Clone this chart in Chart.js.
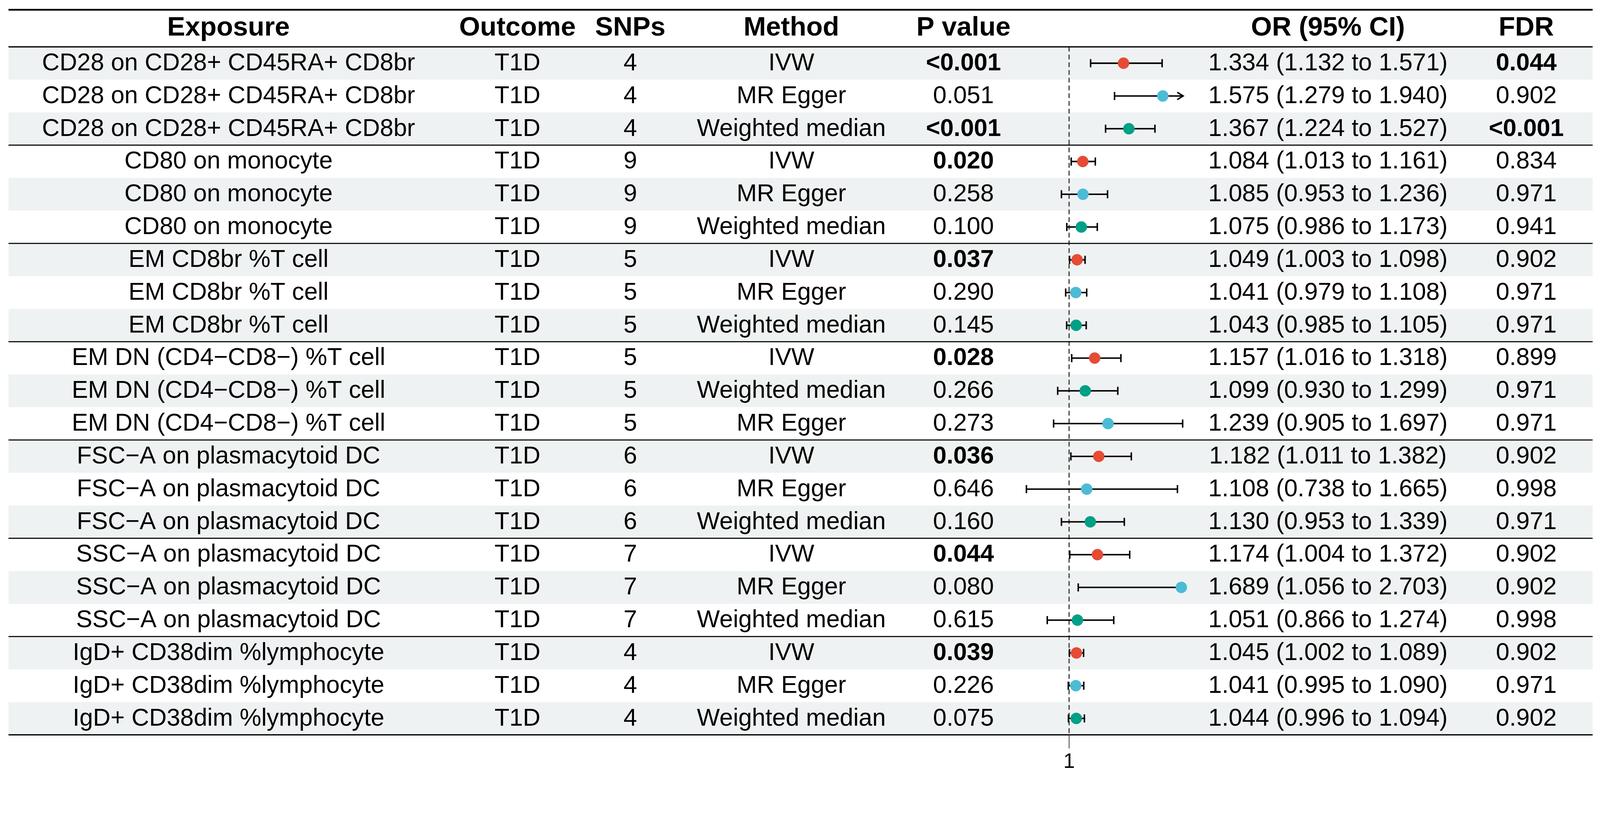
<!DOCTYPE html>
<html>
<head>
<meta charset="utf-8">
<script src="https://cdn.jsdelivr.net/npm/chart.js@4/dist/chart.umd.min.js"></script>
<style>
  html, body { margin: 0; padding: 0; background: #ffffff; overflow: hidden; }
  #wrap { position: relative; }
</style>
</head>
<body>
<div id="wrap"><canvas id="forest"></canvas></div>
<script>
// MR results for T1D, one entry per row (top to bottom)
const exposures = [
  "CD28 on CD28+ CD45RA+ CD8br", "CD28 on CD28+ CD45RA+ CD8br", "CD28 on CD28+ CD45RA+ CD8br",
  "CD80 on monocyte", "CD80 on monocyte", "CD80 on monocyte",
  "EM CD8br %T cell", "EM CD8br %T cell", "EM CD8br %T cell",
  "EM DN (CD4\u2212CD8\u2212) %T cell", "EM DN (CD4\u2212CD8\u2212) %T cell", "EM DN (CD4\u2212CD8\u2212) %T cell",
  "FSC\u2212A on plasmacytoid DC", "FSC\u2212A on plasmacytoid DC", "FSC\u2212A on plasmacytoid DC",
  "SSC\u2212A on plasmacytoid DC", "SSC\u2212A on plasmacytoid DC", "SSC\u2212A on plasmacytoid DC",
  "IgD+ CD38dim %lymphocyte", "IgD+ CD38dim %lymphocyte", "IgD+ CD38dim %lymphocyte"
];
const outcomes = Array(21).fill("T1D");
const snps = [4, 4, 4, 9, 9, 9, 5, 5, 5, 5, 5, 5, 6, 6, 6, 7, 7, 7, 4, 4, 4];
const methods = [
  "IVW", "MR Egger", "Weighted median",
  "IVW", "MR Egger", "Weighted median",
  "IVW", "MR Egger", "Weighted median",
  "IVW", "Weighted median", "MR Egger",
  "IVW", "MR Egger", "Weighted median",
  "IVW", "MR Egger", "Weighted median",
  "IVW", "MR Egger", "Weighted median"
];
const pValues = ["<0.001", "0.051", "<0.001", "0.020", "0.258", "0.100", "0.037", "0.290", "0.145",
  "0.028", "0.266", "0.273", "0.036", "0.646", "0.160", "0.044", "0.080", "0.615", "0.039", "0.226", "0.075"];
const orValues = [1.334, 1.575, 1.367, 1.084, 1.085, 1.075, 1.049, 1.041, 1.043, 1.157, 1.099, 1.239,
  1.182, 1.108, 1.130, 1.174, 1.689, 1.051, 1.045, 1.041, 1.044];
const ciLower = [1.132, 1.279, 1.224, 1.013, 0.953, 0.986, 1.003, 0.979, 0.985, 1.016, 0.930, 0.905,
  1.011, 0.738, 0.953, 1.004, 1.056, 0.866, 1.002, 0.995, 0.996];
const ciUpper = [1.571, 1.940, 1.527, 1.161, 1.236, 1.173, 1.098, 1.108, 1.105, 1.318, 1.299, 1.697,
  1.382, 1.665, 1.339, 1.372, 2.703, 1.274, 1.089, 1.090, 1.094];
const fdrValues = ["0.044", "0.902", "<0.001", "0.834", "0.971", "0.941", "0.902", "0.971", "0.971",
  "0.899", "0.971", "0.971", "0.902", "0.998", "0.971", "0.902", "0.902", "0.998", "0.902", "0.971", "0.902"];
const xTicks = [1];
const headers = ["Exposure", "Outcome", "SNPs", "Method", "P value", "", "OR (95% CI)", "FDR"];

const methodColors = { "IVW": "#E64B35", "MR Egger": "#4DBBD5", "Weighted median": "#00A087" };
const FONT = "'Liberation Sans', Arial, Helvetica, sans-serif";

// everything below is laid out for a 4341 wide page, then scaled to the real viewport
const k = window.innerWidth / 4341;
const S = v => v * k;
const wrap = document.getElementById("wrap");
wrap.style.width = window.innerWidth + "px";
wrap.style.height = Math.round(2106 * k) + "px";

const colX = [620, 1404, 1710, 2147, 2614, null, 3603, 4141];
const tableLeft = 23, tableRight = 4321;

const fmt = v => v.toFixed(3);
const orText = orValues.map((v, i) => `${fmt(v)} (${fmt(ciLower[i])} to ${fmt(ciUpper[i])})`);
const isSig = s => s.startsWith("<") || parseFloat(s) < 0.05;

function drawText(ctx, txt, x, y, bold, size) {
  ctx.font = `${bold ? "bold " : ""}${S(size)}px ${FONT}`;
  ctx.fillStyle = "#000";
  ctx.textAlign = "center";
  ctx.textBaseline = "middle";
  ctx.fillText(txt, x, y);
}

function hline(ctx, y, w) {
  ctx.beginPath();
  ctx.lineWidth = S(w);
  ctx.strokeStyle = "#000";
  ctx.moveTo(S(tableLeft), y);
  ctx.lineTo(S(tableRight), y);
  ctx.stroke();
}

const tablePlugin = {
  id: "forestTable",
  beforeDraw(chart) {
    const ctx = chart.ctx;
    const ys = chart.scales.y;
    ctx.save();
    ctx.fillStyle = "#ffffff";
    ctx.fillRect(0, 0, chart.width, chart.height);
    // zebra rows
    ctx.fillStyle = "#EFF2F2";
    for (let i = 0; i < exposures.length; i += 2) {
      const top = ys.getPixelForValue(i + 0.5);
      const bot = ys.getPixelForValue(i + 1.5);
      ctx.fillRect(S(tableLeft), top, S(tableRight - tableLeft), bot - top);
    }
    ctx.restore();
  },
  beforeDatasetsDraw(chart) {
    const ctx = chart.ctx;
    const xs = chart.scales.x, ys = chart.scales.y;
    const area = chart.chartArea;
    ctx.save();
    // reference line at OR = 1
    const x1 = xs.getPixelForValue(1);
    ctx.beginPath();
    ctx.setLineDash([S(13), S(8)]);
    ctx.lineWidth = S(3);
    ctx.strokeStyle = "#333";
    ctx.moveTo(x1, area.top);
    ctx.lineTo(x1, area.bottom);
    ctx.stroke();
    ctx.setLineDash([]);

    // confidence intervals
    ctx.strokeStyle = "#000";
    ctx.lineWidth = S(4);
    ctx.lineCap = "butt";
    orValues.forEach((v, i) => {
      const y = ys.getPixelForValue(i + 1);
      const lo = Math.max(ciLower[i], xs.min);
      const hi = Math.min(ciUpper[i], xs.max);
      const xl = xs.getPixelForValue(lo);
      const xh = xs.getPixelForValue(hi);
      ctx.beginPath();
      ctx.moveTo(xl, y);
      ctx.lineTo(xh, y);
      if (ciLower[i] >= xs.min) {
        ctx.moveTo(xl, y - S(11));
        ctx.lineTo(xl, y + S(11));
      }
      if (ciUpper[i] <= xs.max) {
        ctx.moveTo(xh, y - S(11));
        ctx.lineTo(xh, y + S(11));
      }
      ctx.stroke();
      if (ciUpper[i] > xs.max) {
        ctx.beginPath();
        ctx.moveTo(xh - S(16), y - S(10));
        ctx.lineTo(xh, y);
        ctx.lineTo(xh - S(16), y + S(10));
        ctx.stroke();
      }
    });
    ctx.restore();
  },
  afterDraw(chart) {
    const ctx = chart.ctx;
    const xs = chart.scales.x, ys = chart.scales.y;
    const area = chart.chartArea;
    ctx.save();
    const topLine = S(26.5);
    hline(ctx, topLine, 5);
    hline(ctx, area.top, 3.5);
    for (let g = 3; g < exposures.length; g += 3) {
      hline(ctx, ys.getPixelForValue(g + 0.5), 3);
    }
    hline(ctx, area.bottom, 3.5);

    // header
    const hy = (topLine + area.top) / 2;
    headers.forEach((h, c) => {
      if (h) drawText(ctx, h, S(colX[c]), hy, true, 73);
    });

    // body
    exposures.forEach((e, i) => {
      const y = ys.getPixelForValue(i + 1) + S(1);
      drawText(ctx, e, S(colX[0]), y, false, 66);
      drawText(ctx, outcomes[i], S(colX[1]), y, false, 66);
      drawText(ctx, String(snps[i]), S(colX[2]), y, false, 66);
      drawText(ctx, methods[i], S(colX[3]), y, false, 66);
      drawText(ctx, pValues[i], S(colX[4]), y, isSig(pValues[i]), 66);
      drawText(ctx, orText[i], S(colX[6]), y, false, 66);
      drawText(ctx, fdrValues[i], S(colX[7]), y, isSig(fdrValues[i]), 66);
    });

    // x axis tick
    xTicks.forEach(t => {
      const xp = xs.getPixelForValue(t);
      ctx.beginPath();
      ctx.lineWidth = S(2);
      ctx.strokeStyle = "#333";
      ctx.moveTo(xp, area.bottom);
      ctx.lineTo(xp, area.bottom + S(37));
      ctx.stroke();
      drawText(ctx, String(t), xp, area.bottom + S(74), false, 56);
    });
    ctx.restore();
  }
};

new Chart(document.getElementById("forest"), {
  type: "scatter",
  data: {
    datasets: [
      {
        data: orValues.map((v, i) => ({ x: v, y: i + 1 })),
        pointRadius: S(15.5),
        pointHoverRadius: S(15.5),
        pointBorderWidth: 0,
        pointBackgroundColor: methods.map(m => methodColors[m]),
        pointBorderColor: methods.map(m => methodColors[m]),
        clip: false,
      },
    ],
  },
  options: {
    responsive: true,
    maintainAspectRatio: false,
    animation: false,
    events: [],
    layout: { padding: { left: S(2768), right: S(1131), top: S(127), bottom: S(113) } },
    scales: {
      x: { type: "linear", min: 0.7, max: 1.7, display: false },
      y: { type: "linear", min: 0.5, max: 21.5, reverse: true, display: false },
    },
    plugins: {
      legend: { display: false },
      tooltip: { enabled: false },
      title: { display: false },
    },
  },
  plugins: [tablePlugin],
});
</script>
</body>
</html>
